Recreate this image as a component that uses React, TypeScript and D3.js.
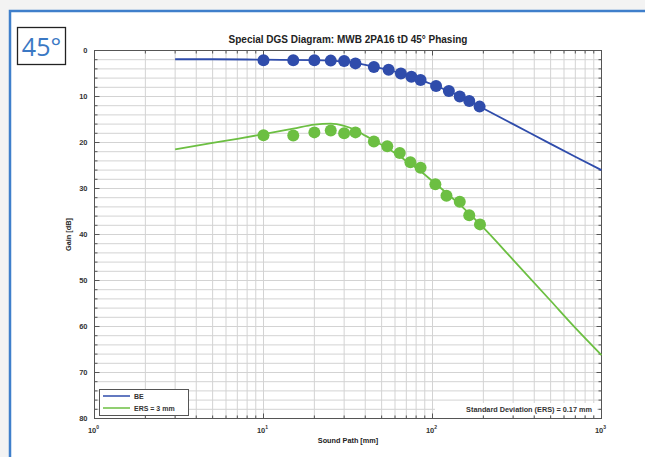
import { useEffect, useRef } from "react";
import * as d3 from "d3";

// sound path [mm] and gain [dB]
const beDotX = [10, 15, 20, 25, 30, 35, 45, 55, 65, 75, 85, 105, 125, 145, 165, 190];
const beDotY = [2.1, 2.1, 2.1, 2.2, 2.3, 2.8, 3.6, 4.2, 5.0, 5.7, 6.4, 7.7, 8.8, 10.0, 11.0, 12.2];
const beLineX = [3, 5, 10, 20, 30, 40, 50, 60, 70, 80, 100, 150, 200, 300, 500, 700, 1000];
const beLineY = [1.9, 1.9, 2.0, 2.1, 2.4, 3.1, 3.9, 4.6, 5.3, 6.0, 7.4, 10.2, 12.6, 16.0, 20.3, 23.1, 26.0];

const ersDotX = [10, 15, 20, 25, 30, 35, 45, 54, 64, 74, 85, 104, 121, 145, 165, 191];
const ersDotY = [18.4, 18.5, 17.8, 17.4, 18.0, 17.8, 19.8, 20.8, 22.3, 24.3, 25.5, 29.1, 31.6, 32.9, 35.8, 37.8];
const ersLineX = [3, 5, 7, 10, 15, 20, 25, 30, 35, 40, 50, 60, 70, 80, 100, 150, 200, 300, 500, 700, 1000];
const ersLineY = [21.5, 20.1, 19.2, 18.2, 17.0, 16.1, 15.9, 16.4, 17.3, 18.5, 20.5, 22.3, 24.0, 25.5, 28.4, 34.0, 38.5, 45.5, 54.4, 60.3, 66.2];

const yTicks = [0, 10, 20, 30, 40, 50, 60, 70, 80];
const xDecades = [1, 10, 100, 1000];

const legendItems = ["BE", "ERS = 3 mm"];
const chartTitle = "Special DGS Diagram: MWB 2PA16 tD 45° Phasing";
const xAxTitle = "Sound Path [mm]";
const yAxTitle = "Gain [dB]";
const noteText = "Standard Deviation (ERS)  = 0.17 mm";

const blue = "#2f4cab";
const green = "#6cbf42";

const App = () => {
  const svgRef = useRef<SVGSVGElement>(null);
  const W = 645;
  const H = 457;
  const margin = { top: 50.5, right: 43.5, bottom: 38.5, left: 94.5 };

  useEffect(() => {
    const svg = d3.select(svgRef.current);
    svg.selectAll("*").remove();
    const font = "'Liberation Sans', Arial, sans-serif";

    const x = d3.scaleLog().domain([1, 1000]).range([margin.left, W - margin.right]);
    const y = d3.scaleLinear().domain([0, 80]).range([margin.top, H - margin.bottom]);

    // page background + frame
    svg.append("rect").attr("width", W).attr("height", H).attr("fill", "#f3f3f3");
    svg.append("rect").attr("x", 10).attr("y", 11).attr("width", W).attr("height", H)
      .attr("fill", "#fff").attr("stroke", "#3f7fcb").attr("stroke-width", 2.5);

    // 45° badge
    svg.append("rect").attr("x", 17.5).attr("y", 27.5).attr("width", 48).attr("height", 37)
      .attr("fill", "#fff").attr("stroke", "#222").attr("stroke-width", 1.3);
    svg.append("text").attr("x", 41.5).attr("y", 56).attr("text-anchor", "middle")
      .style("font-family", "'Open Sans', sans-serif").style("font-size", "25px")
      .attr("fill", "#3a78c4").text("45°");

    const x0 = margin.left, x1 = W - margin.right, y0 = margin.top, y1 = H - margin.bottom;

    // grid
    const g = svg.append("g");
    const minorX: number[] = [];
    [1, 10, 100].forEach((d) => {
      for (let k = 2; k <= 9; k++) minorX.push(d * k);
    });
    g.selectAll("line.vx").data(minorX.concat([10, 100])).enter().append("line")
      .attr("x1", (d) => x(d)).attr("x2", (d) => x(d)).attr("y1", y0).attr("y2", y1)
      .attr("stroke", "#d3d3d3").attr("stroke-width", 1);
    g.selectAll("line.hy").data(d3.range(2, 80, 2)).enter().append("line")
      .attr("x1", x0).attr("x2", x1).attr("y1", (d) => y(d)).attr("y2", (d) => y(d))
      .attr("stroke", "#d3d3d3").attr("stroke-width", 1);

    // inward ticks on all sides
    const tk = svg.append("g").attr("stroke", "#555").attr("stroke-width", 1);
    d3.range(0, 81, 2).forEach((d) => {
      const len = d % 10 === 0 ? 5 : 3;
      tk.append("line").attr("x1", x0).attr("x2", x0 + len).attr("y1", y(d)).attr("y2", y(d));
      tk.append("line").attr("x1", x1).attr("x2", x1 - len).attr("y1", y(d)).attr("y2", y(d));
    });
    minorX.concat(xDecades).forEach((d) => {
      const len = xDecades.includes(d) ? 5 : 3;
      tk.append("line").attr("x1", x(d)).attr("x2", x(d)).attr("y1", y0).attr("y2", y0 + len);
      tk.append("line").attr("x1", x(d)).attr("x2", x(d)).attr("y1", y1).attr("y2", y1 - len);
    });
    svg.append("rect").attr("x", x0).attr("y", y0).attr("width", x1 - x0).attr("height", y1 - y0)
      .attr("fill", "none").attr("stroke", "#555").attr("stroke-width", 1);

    // tick labels
    svg.selectAll("text.yt").data(yTicks).enter().append("text")
      .attr("x", x0 - 7).attr("y", (d) => y(d) + 2.5).attr("text-anchor", "end")
      .style("font-family", font).style("font-size", "7.5px").style("font-weight", "bold")
      .attr("fill", "#333").text((d) => d);
    xDecades.forEach((d, i) => {
      const t = svg.append("text").attr("x", x(d) - 1).attr("y", y1 + 14).attr("text-anchor", "middle")
        .style("font-family", font).style("font-size", "7.5px").style("font-weight", "bold").attr("fill", "#333");
      t.append("tspan").text("10");
      t.append("tspan").attr("dy", -3.5).style("font-size", "5px").text(i);
    });

    // titles
    svg.append("text").attr("x", (x0 + x1) / 2).attr("y", 43).attr("text-anchor", "middle")
      .style("font-family", font).style("font-size", "10px").style("font-weight", "bold")
      .attr("fill", "#222").text(chartTitle);
    svg.append("text").attr("x", (x0 + x1) / 2).attr("y", y1 + 24).attr("text-anchor", "middle")
      .style("font-family", font).style("font-size", "7.3px").style("font-weight", "bold")
      .attr("fill", "#222").text(xAxTitle);
    svg.append("text").attr("transform", "rotate(-90)").attr("x", -(y0 + y1) / 2).attr("y", 71)
      .attr("text-anchor", "middle").style("font-family", font).style("font-size", "7.3px")
      .style("font-weight", "bold").attr("fill", "#222").text(yAxTitle);

    // curves
    const line = d3.line<[number, number]>().x((d) => x(d[0])).y((d) => y(d[1])).curve(d3.curveMonotoneX);
    svg.append("path").datum(beLineX.map((d, i) => [d, beLineY[i]] as [number, number]))
      .attr("d", line).attr("fill", "none").attr("stroke", blue).attr("stroke-width", 1.8);
    svg.append("path").datum(ersLineX.map((d, i) => [d, ersLineY[i]] as [number, number]))
      .attr("d", line).attr("fill", "none").attr("stroke", green).attr("stroke-width", 1.8);

    svg.selectAll("circle.be").data(beDotX).enter().append("circle")
      .attr("cx", (d) => x(d)).attr("cy", (d, i) => y(beDotY[i])).attr("r", 6).attr("fill", blue);
    svg.selectAll("circle.ers").data(ersDotX).enter().append("circle")
      .attr("cx", (d) => x(d)).attr("cy", (d, i) => y(ersDotY[i])).attr("r", 6).attr("fill", green);

    // legend
    const lg = svg.append("g");
    lg.append("rect").attr("x", 99.5).attr("y", 389.5).attr("width", 89).attr("height", 26)
      .attr("fill", "#fff").attr("stroke", "#555").attr("stroke-width", 1);
    legendItems.forEach((name, i) => {
      const ly = 396 + i * 12;
      lg.append("line").attr("x1", 103).attr("x2", 130).attr("y1", ly).attr("y2", ly)
        .attr("stroke", i === 0 ? blue : green).attr("stroke-width", 1.5);
      lg.append("text").attr("x", 134).attr("y", ly + 2.5)
        .style("font-family", font).style("font-size", "7px").style("font-weight", "bold")
        .attr("fill", "#333").text(name);
    });

    // note
    svg.append("rect").attr("x", 435).attr("y", 403).attr("width", 162).attr("height", 12).attr("fill", "#fff");
    svg.append("text").attr("x", 592).attr("y", 412).attr("text-anchor", "end")
      .style("font-family", font).style("font-size", "7.3px").style("font-weight", "bold")
      .attr("fill", "#333").text(noteText);
  }, []);

  return (
    <svg
      ref={svgRef}
      width={W}
      height={H}
      style={{ position: "absolute", left: 0, top: 0, display: "block" }}
    ></svg>
  );
};

export default App;
